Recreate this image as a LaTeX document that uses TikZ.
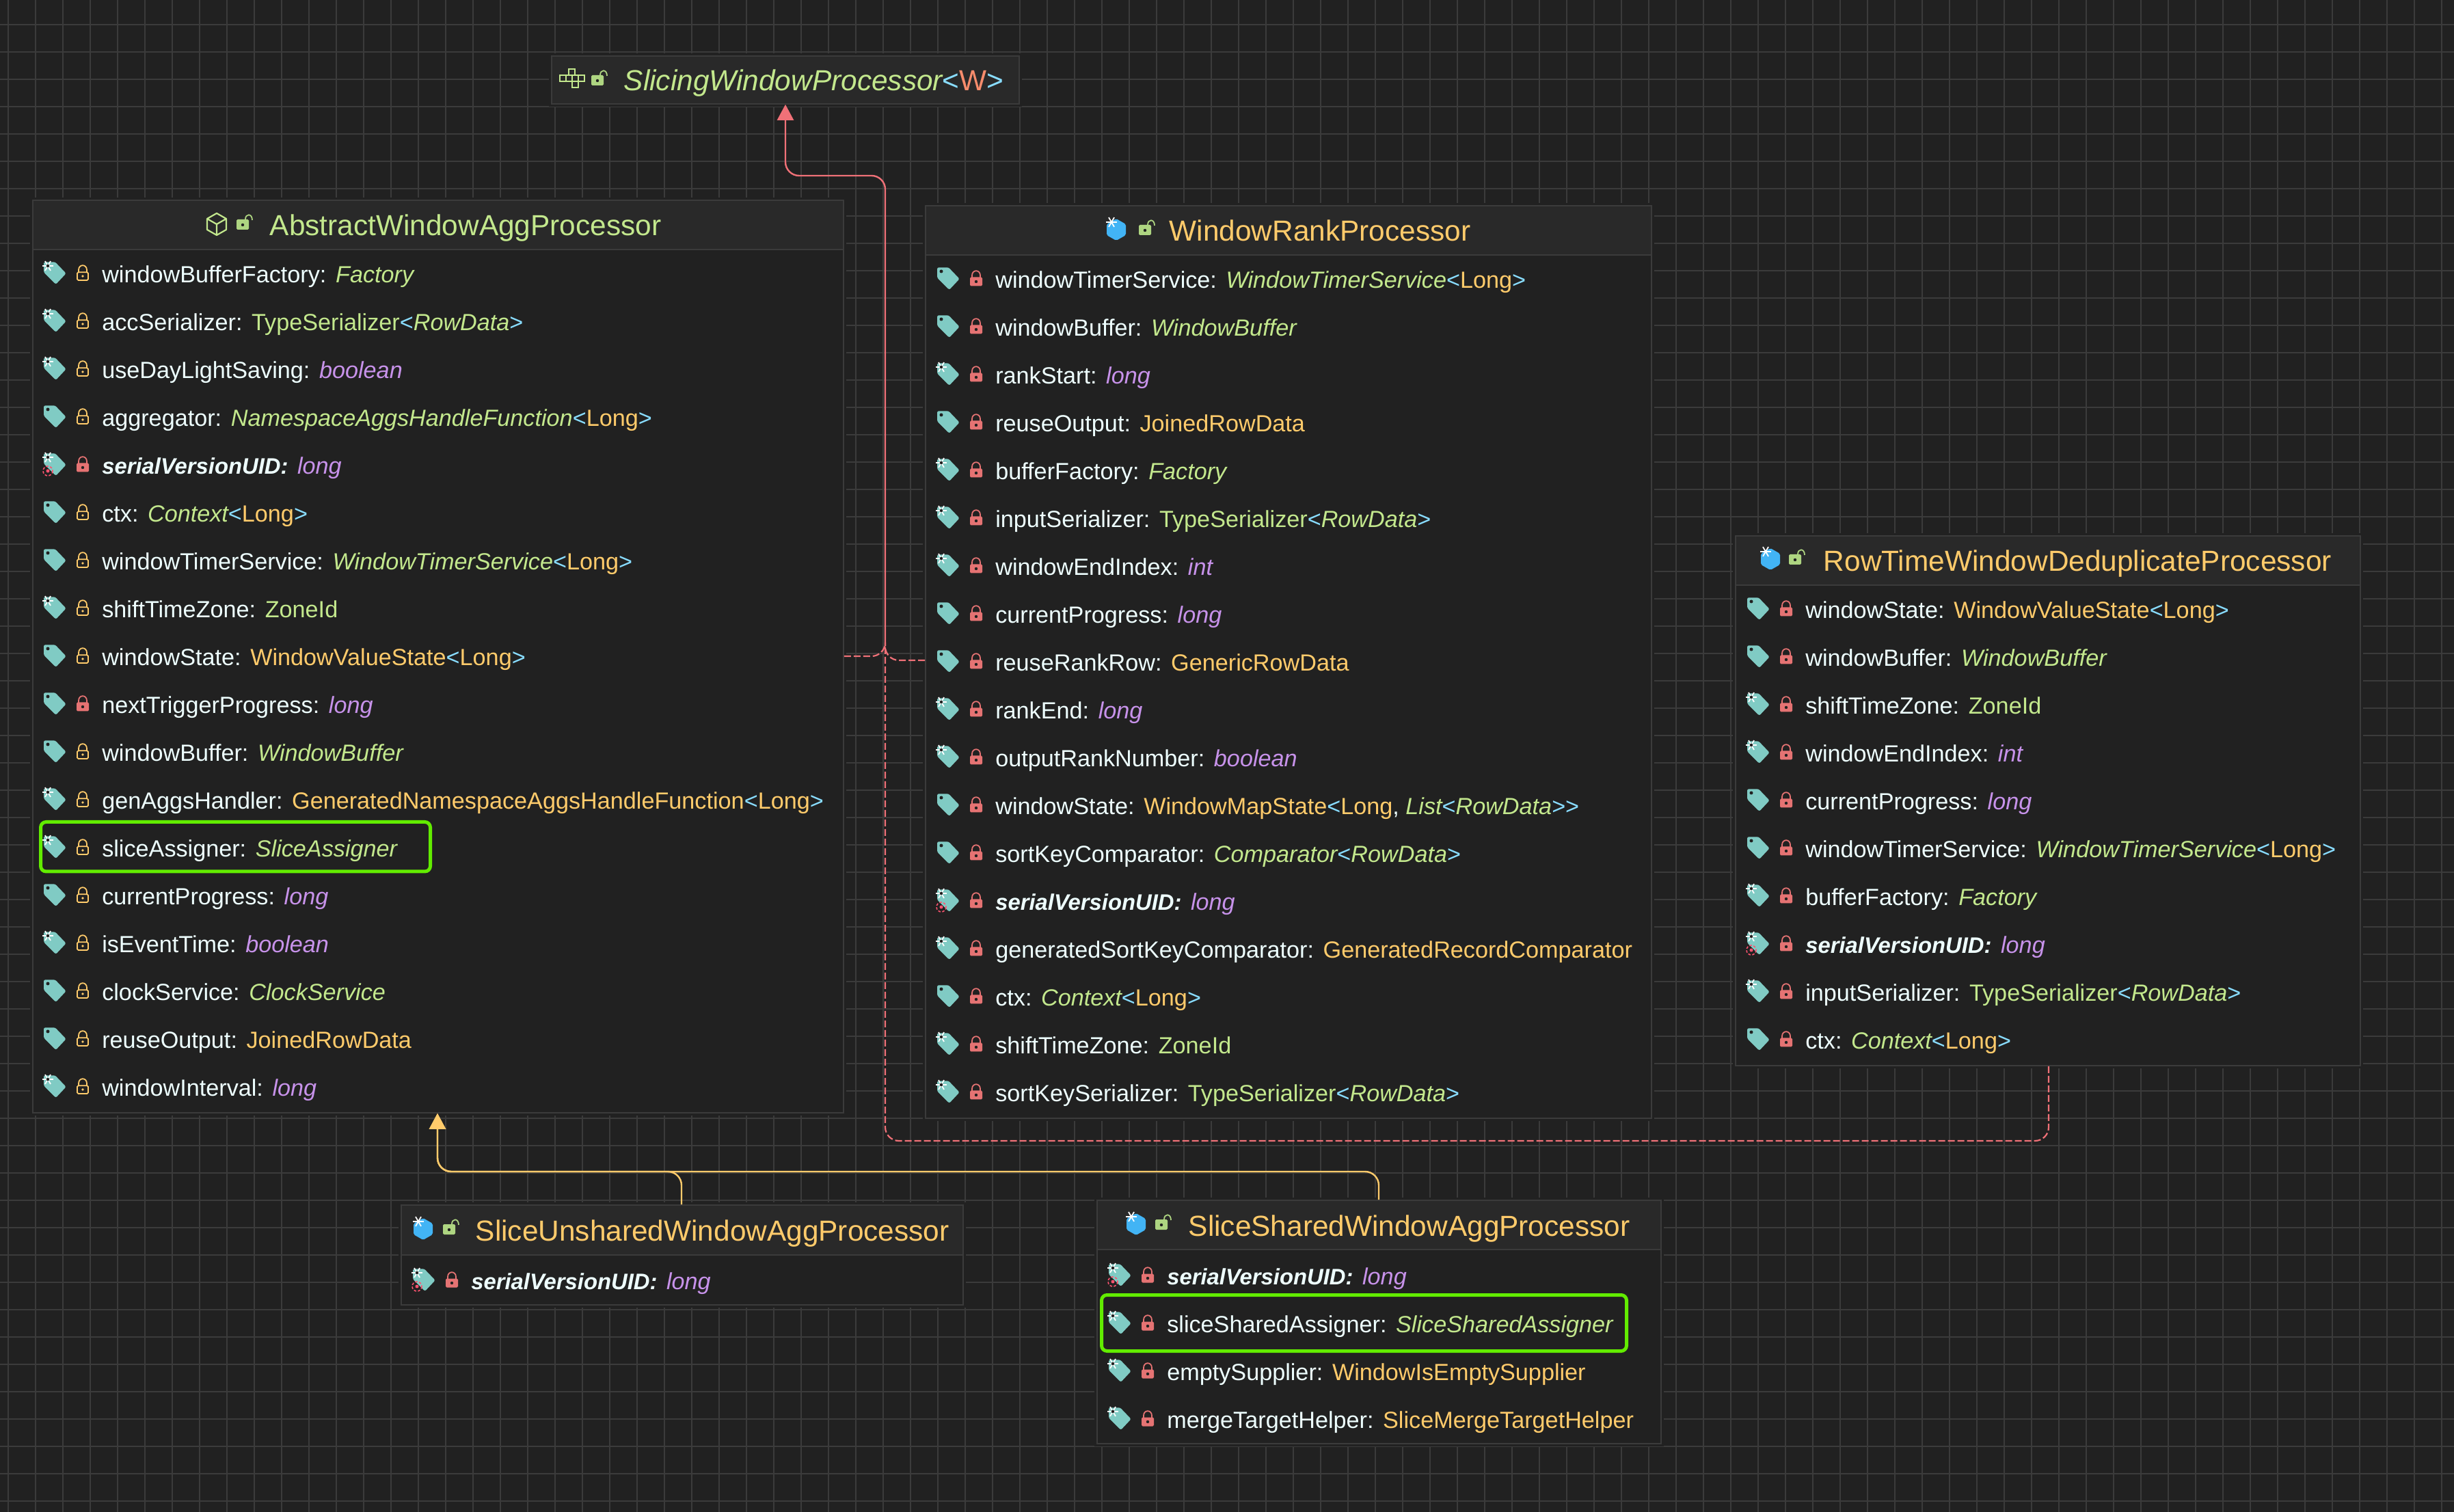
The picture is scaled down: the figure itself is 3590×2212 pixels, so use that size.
\documentclass[tikz,border=0pt]{standalone}
\usepackage{fontspec}
\setmainfont{Liberation Sans}
\usetikzlibrary{arrows.meta,calc,fit}
\definecolor{bgdark}{HTML}{212121}
\definecolor{headdark}{HTML}{292929}
\definecolor{gridc}{HTML}{3B3B3B}
\definecolor{fieldc}{HTML}{EEFFFF}
\definecolor{greenc}{HTML}{C3E88D}
\definecolor{orangec}{HTML}{FFCB6B}
\definecolor{purplec}{HTML}{C792EA}
\definecolor{bluec}{HTML}{89DDFF}
\definecolor{coralc}{HTML}{F78C6C}
\definecolor{tagc}{HTML}{80CBC4}
\definecolor{redc}{HTML}{E57373}
\definecolor{pinc}{HTML}{FF5370}
\definecolor{openc}{HTML}{AED581}
\definecolor{cubec}{HTML}{42B4F5}
\definecolor{linkc}{HTML}{F07178}
\definecolor{markc}{HTML}{62EC00}
\newcommand{\nm}[1]{\textcolor{fieldc}{#1:}\hspace{3.4pt}}
\newcommand{\snm}[1]{\textcolor{fieldc}{\fontsize{8.2}{11}\selectfont\bfseries\itshape #1:}\hspace{3.4pt}}
\newcommand{\typeI}[1]{\textcolor{greenc}{\itshape #1}}
\newcommand{\typeU}[1]{\textcolor{greenc}{#1}}
\newcommand{\typeO}[1]{\textcolor{orangec}{#1}}
\newcommand{\typeP}[1]{\textcolor{purplec}{\itshape #1}}
\newcommand{\angL}{\textcolor{bluec}{<}}
\newcommand{\angR}{\textcolor{bluec}{>}}
\newcommand{\ofLong}{\angL\typeO{Long}\angR}
\newcommand{\ofRow}{\angL\typeI{RowData}\angR}
\tikzset{
 tagp/.pic={\fill[tagc,rounded corners=.6pt] (-16,-16.7)--(.7,-16.7)--(16.7,0)--(1.7,16)--(-16,-1.7)--cycle;
  \fill[bgdark] (-10,-11) circle (2.5);},
 lockbase/.pic={\draw[line width=.45pt] (-6,-2)--(-6,-5) .. controls (-6,-14) and (6,-14) .. (6,-5)--(6,-2);},
 lockY/.pic={\draw[orangec,line width=.45pt,rounded corners=.4pt] (-8,-1.7) rectangle (8,10);
  \pic[orangec] {lockbase}; \fill[orangec] (0,4) circle (1.8);},
 lockR/.pic={\fill[redc,rounded corners=.4pt] (-9,-2.5) rectangle (9,10.5);
  \pic[redc] {lockbase}; \fill[bgdark] (0,4) circle (2.2);},
 lockopen/.pic={\fill[openc,rounded corners=.4pt] (-10,-7) rectangle (8,8);
  \draw[openc,line width=.45pt] (3,-7) .. controls (3,-16) and (13,-16) .. (13,-6);
  \fill[bgdark] (-1,1) circle (2.2);},
 cubeline/.pic={\draw[greenc,line width=.55pt,line join=round] (0,-16)--(14,-8)--(14,8)--(0,16)--(-14,8)--(-14,-8)--cycle
   (-14,-8)--(0,0)--(14,-8) (0,0)--(0,16);},
 cubefill/.pic={\fill[cubec,rounded corners=.5pt] (0,-16)--(14,-8)--(14,8)--(0,16)--(-14,8)--(-14,-8)--cycle;
  \begin{scope}[shift={(-7,-11)}]
  \foreach \a in {0,60,120} \draw[white,line width=.45pt] (\a:8)--(\a+180:8);
  \end{scope}},
 crossicon/.pic={\foreach \cx/\cy in {0/-9,-13/0,-4/0,5/0,14/0,5/9}
   \draw[greenc,line width=.5pt] (\cx-4.5,\cy-4.5) rectangle (\cx+4.5,\cy+4.5);},
}
\newcommand{\classrows}[4]{%
 \foreach \kind/\lck/\txt [count=\i from 0] in {#4}{
  \pgfmathsetmacro\ry{#3+70*\i}
  \pic at (#2,\ry) {tagp};
  \ifnum\pdfstrcmp{\kind}{p}=0\relax\else
   \begin{scope}[shift={(#2-10,\ry-11)}]
   \foreach \a in {0,60,120} \draw[white,line width=.45pt] (\a:8)--(\a+180:8);
   \fill[bgdark] (0,0) circle (2.2);
   \end{scope}
  \fi
  \ifnum\pdfstrcmp{\kind}{t}=0\relax
   \draw[pinc,line width=.4pt,dash pattern=on .9pt off .6pt] (#2-10,\ry+9) circle (7);
   \fill[pinc] (#2-10,\ry+9) circle (2.5);
  \fi
  \pic at (#2+41,\ry) {lock\lck};
  \node[fieldtext] (#1-\i) at (#2+68.5,\ry+13.5) {\txt};
 }}
\begin{document}
\begin{tikzpicture}
[x=.25pt,y=-.25pt,>={Triangle[length=5.75pt,width=6pt]},
 gridline/.style={draw=gridc,line width=.42pt},
 classbox/.style={draw=gridc,line width=.42pt,fill=bgdark,inner sep=0pt,preaction={draw=bgdark,line width=2.2pt}},
 classhead/.style={draw=gridc,line width=.42pt,fill=headdark,inner sep=0pt},
 fieldtext/.style={anchor=base west,inner sep=0pt,font=\fontsize{8.55}{11}\selectfont},
 titletext/.style={anchor=base west,inner sep=0pt,font=\fontsize{10.6}{13}\selectfont},
 marked/.style={draw=markc,line width=1.25pt,rounded corners=2pt,inner sep=0pt},
 extlink/.style={draw=orangec,line width=.6pt,rounded corners=5pt,->},
 impllink/.style={draw=linkc,line width=.55pt,rounded corners=5pt,dash pattern=on 2.5pt off 1pt},
 trunk/.style={draw=linkc,line width=.6pt,rounded corners=5pt,->},]
\useasboundingbox[fill=bgdark] (0,0) rectangle (3590,2212);
\foreach \gx in {12,52,...,3572} \draw[gridline] (\gx,0)--(\gx,2212);
\foreach \gy in {36,76,...,2212} \draw[gridline] (0,\gy)--(3590,\gy);

\node[classhead,preaction={draw=bgdark,line width=2.2pt},fit={(807,82)(1491,152)}] (slicing) {};
\node[classbox,fit={(48,293)(1234,1628)}] (absAgg) {};
\node[classhead,fit={(48,293)(1234,365)}] (absAggHead) {};
\node[classbox,fit={(1354,301)(2416,1636)}] (rank) {};
\node[classhead,fit={(1354,301)(2416,373)}] (rankHead) {};
\node[classbox,fit={(2539,784)(3453,1559)}] (dedup) {};
\node[classhead,fit={(2539,784)(3453,856)}] (dedupHead) {};
\node[classbox,fit={(587,1763)(1409,1909)}] (unshared) {};
\node[classhead,fit={(587,1763)(1409,1836)}] (unsharedHead) {};
\node[classbox,fit={(1605,1756)(2430,2112)}] (shared) {};
\node[classhead,fit={(1605,1756)(2430,1828)}] (sharedHead) {};

\pic at (836,115) {crossicon};
\pic at (875,117) {lockopen};
\node[titletext] (slicingTitle) at (912,133) {\typeI{SlicingWindowProcessor}\angL\textcolor{coralc}{W}\angR};
\pic at (317,328) {cubeline};
\pic at (356,328) {lockopen};
\node[titletext] (absAggTitle) at (394,345) {\typeU{AbstractWindowAggProcessor}};
\pic at (1633,336) {cubefill};
\pic at (1676,336) {lockopen};
\node[titletext] (rankTitle) at (1710,353) {\typeO{WindowRankProcessor}};
\pic at (2590,818) {cubefill};
\pic at (2627,818) {lockopen};
\node[titletext] (dedupTitle) at (2667,836) {\typeO{RowTimeWindowDeduplicateProcessor}};
\pic at (619,1798) {cubefill};
\pic at (658,1798) {lockopen};
\node[titletext] (unsharedTitle) at (695,1815) {\typeO{SliceUnsharedWindowAggProcessor}};
\pic at (1662,1791) {cubefill};
\pic at (1700,1791) {lockopen};
\node[titletext] (sharedTitle) at (1738,1808) {\typeO{SliceSharedWindowAggProcessor}};

\classrows{absAgg}{80}{400}{
 s/Y/{\nm{windowBufferFactory}\typeI{Factory}},
 s/Y/{\nm{accSerializer}\typeU{TypeSerializer}\ofRow},
 s/Y/{\nm{useDayLightSaving}\typeP{boolean}},
 p/Y/{\nm{aggregator}\typeI{NamespaceAggsHandleFunction}\ofLong},
 t/R/{\snm{serialVersionUID}\typeP{long}},
 p/Y/{\nm{ctx}\typeI{Context}\ofLong},
 p/Y/{\nm{windowTimerService}\typeI{WindowTimerService}\ofLong},
 s/Y/{\nm{shiftTimeZone}\typeU{ZoneId}},
 p/Y/{\nm{windowState}\typeO{WindowValueState}\ofLong},
 p/R/{\nm{nextTriggerProgress}\typeP{long}},
 p/Y/{\nm{windowBuffer}\typeI{WindowBuffer}},
 s/Y/{\nm{genAggsHandler}\typeO{GeneratedNamespaceAggsHandleFunction}\ofLong},
 s/Y/{\nm{sliceAssigner}\typeI{SliceAssigner}},
 p/Y/{\nm{currentProgress}\typeP{long}},
 s/Y/{\nm{isEventTime}\typeP{boolean}},
 p/Y/{\nm{clockService}\typeI{ClockService}},
 p/Y/{\nm{reuseOutput}\typeO{JoinedRowData}},
 s/Y/{\nm{windowInterval}\typeP{long}}}
\classrows{rank}{1387}{408}{
 p/R/{\nm{windowTimerService}\typeI{WindowTimerService}\ofLong},
 p/R/{\nm{windowBuffer}\typeI{WindowBuffer}},
 s/R/{\nm{rankStart}\typeP{long}},
 p/R/{\nm{reuseOutput}\typeO{JoinedRowData}},
 s/R/{\nm{bufferFactory}\typeI{Factory}},
 s/R/{\nm{inputSerializer}\typeU{TypeSerializer}\ofRow},
 s/R/{\nm{windowEndIndex}\typeP{int}},
 p/R/{\nm{currentProgress}\typeP{long}},
 p/R/{\nm{reuseRankRow}\typeO{GenericRowData}},
 s/R/{\nm{rankEnd}\typeP{long}},
 s/R/{\nm{outputRankNumber}\typeP{boolean}},
 p/R/{\nm{windowState}\typeO{WindowMapState}\angL\typeO{Long}\textcolor{fieldc}{,} \typeI{List}\ofRow\angR},
 p/R/{\nm{sortKeyComparator}\typeI{Comparator}\ofRow},
 t/R/{\snm{serialVersionUID}\typeP{long}},
 s/R/{\nm{generatedSortKeyComparator}\typeO{GeneratedRecordComparator}},
 p/R/{\nm{ctx}\typeI{Context}\ofLong},
 s/R/{\nm{shiftTimeZone}\typeU{ZoneId}},
 s/R/{\nm{sortKeySerializer}\typeU{TypeSerializer}\ofRow}}
\classrows{dedup}{2572}{891}{
 p/R/{\nm{windowState}\typeO{WindowValueState}\ofLong},
 p/R/{\nm{windowBuffer}\typeI{WindowBuffer}},
 s/R/{\nm{shiftTimeZone}\typeU{ZoneId}},
 s/R/{\nm{windowEndIndex}\typeP{int}},
 p/R/{\nm{currentProgress}\typeP{long}},
 p/R/{\nm{windowTimerService}\typeI{WindowTimerService}\ofLong},
 s/R/{\nm{bufferFactory}\typeI{Factory}},
 t/R/{\snm{serialVersionUID}\typeP{long}},
 s/R/{\nm{inputSerializer}\typeU{TypeSerializer}\ofRow},
 p/R/{\nm{ctx}\typeI{Context}\ofLong}}
\classrows{unshared}{620}{1873}{
 t/R/{\snm{serialVersionUID}\typeP{long}}}
\classrows{shared}{1638}{1866}{
 t/R/{\snm{serialVersionUID}\typeP{long}},
 s/R/{\nm{sliceSharedAssigner}\typeI{SliceSharedAssigner}},
 s/R/{\nm{emptySupplier}\typeO{WindowIsEmptySupplier}},
 s/R/{\nm{mergeTargetHelper}\typeO{SliceMergeTargetHelper}}}

\node[marked,fit={(59.5,1202.5)(629.5,1275)}] (markAssigner) {};
\node[marked,fit={(1611.5,1894.5)(2379.5,1976.5)}] (markShared) {};

\coordinate (slicingIn) at (slicing.south -| 1149,0);
\coordinate (absAggIn) at (absAgg.south -| 640,0);
\coordinate (absAggOut) at (absAgg.east |- 0,960);
\coordinate (rankOut) at (rank.west |- 0,966);
\coordinate (dedupOut) at (dedup.south -| 2997,0);
\coordinate (unsharedOut) at (unshared.north -| 997,0);
\coordinate (sharedOut) at (shared.north -| 2017,0);
\coordinate (merge) at (1295,945);

\draw[extlink] (unsharedOut)--(997,1714)--(640,1714)--(absAggIn);
\draw[extlink] (sharedOut)--(2017,1714)--(640,1714)--(absAggIn);
\draw[impllink] (absAggOut)--(1295,960)--(merge);
\draw[impllink] (rankOut)--(1295,966)--(merge);
\draw[impllink] (dedupOut)--(2997,1669)--(1295,1669)--(merge);
\draw[trunk] (merge)--(1295,257)--(1149,257)--(slicingIn);
\end{tikzpicture}
\end{document}
